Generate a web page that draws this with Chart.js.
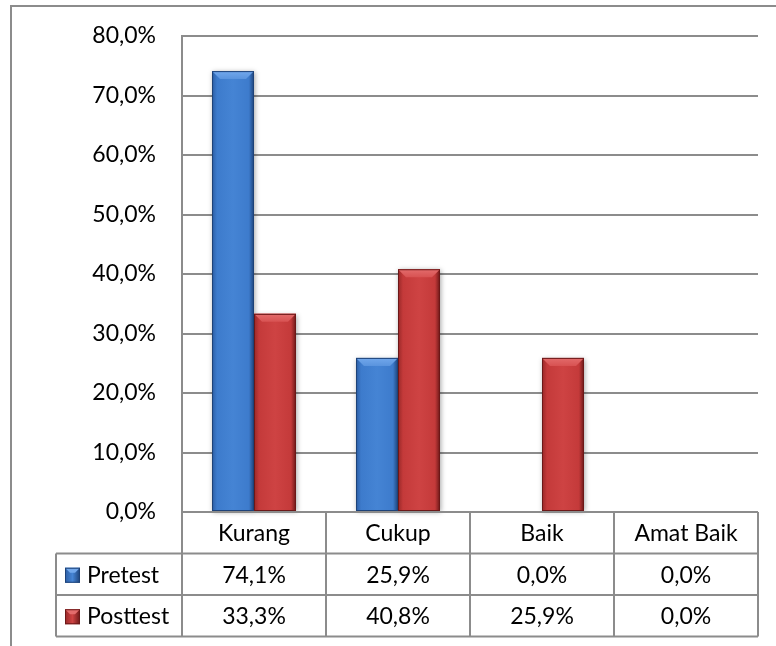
<!DOCTYPE html>
<html>
<head>
<meta charset="utf-8">
<script src="https://cdn.jsdelivr.net/npm/chart.js@4.4.0/dist/chart.umd.min.js"></script>
<style>
  html, body { margin: 0; padding: 0; background: #ffffff; }
  #wrap { width: 776px; height: 646px; position: relative; }
</style>
</head>
<body>
<div id="wrap"><canvas id="c" width="776" height="646"></canvas></div>
<script>
// ---- Data ----
const categories = ['Kurang', 'Cukup', 'Baik', 'Amat Baik'];
const seriesNames = ['Pretest', 'Posttest'];
const pretest = [74.1, 25.9, 0.0, 0.0];
const posttest = [33.3, 40.8, 25.9, 0.0];
const yMin = 0;
const yMax = 80;
const yStep = 10;

const FONT = 'Lato, "Open Sans", sans-serif';
const FSIZE = 23;
const LINE = '#8c8c8c';

const palettes = [
  { base: '#3d7bcc', edgeL: '#2c5ea4', mid: '#4584d4', edgeR: '#1d4278', bevel: '#72a8ec', bevel2: '#5a94de' },
  { base: '#c43a3a', edgeL: '#982828', mid: '#ce4343', edgeR: '#6c1818', bevel: '#e36c6c', bevel2: '#d85252' }
];

function fmt(v) { return v.toFixed(1).replace('.', ',') + '%'; }

const frame = {
  id: 'frame',
  beforeDraw(chart) {
    const c = chart.ctx;
    c.save();
    c.fillStyle = '#fff';
    c.fillRect(0, 0, chart.width, chart.height);
    c.strokeStyle = LINE;
    c.lineWidth = 2;
    c.beginPath();
    c.moveTo(11, chart.height);
    c.lineTo(11, 6);
    c.lineTo(chart.width, 6);
    c.stroke();
    c.restore();
  }
};

const barStyle = {
  id: 'barStyle',
  beforeDatasetsDraw(chart) {
    const c = chart.ctx;
    c.save();
    chart.data.datasets.forEach((ds, di) => {
      chart.getDatasetMeta(di).data.forEach(el => {
        const h = el.base - el.y;
        if (h < 1) return;
        c.shadowColor = 'rgba(0,0,0,0.35)';
        c.shadowBlur = 5;
        c.shadowOffsetX = 1;
        c.shadowOffsetY = 1;
        c.fillStyle = '#ffffff';
        c.fillRect(el.x - el.width / 2, el.y, el.width, h);
      });
    });
    c.restore();
  },
  afterDatasetsDraw(chart) {
    const c = chart.ctx;
    c.save();
    chart.data.datasets.forEach((ds, di) => {
      const p = palettes[di];
      chart.getDatasetMeta(di).data.forEach(el => {
        const h = el.base - el.y;
        if (h < 1) return;
        const l = el.x - el.width / 2, r = el.x + el.width / 2, t = el.y, b = el.base;
        const g = c.createLinearGradient(l, 0, r, 0);
        g.addColorStop(0, p.edgeL);
        g.addColorStop(0.12, p.base);
        g.addColorStop(0.5, p.mid);
        g.addColorStop(0.88, p.base);
        g.addColorStop(1, p.edgeR);
        c.fillStyle = g;
        c.fillRect(l, t, r - l, b - t);
        const bv = Math.min(8, h / 2);
        const gb = c.createLinearGradient(0, t, 0, t + bv);
        gb.addColorStop(0, p.bevel);
        gb.addColorStop(1, p.bevel2);
        c.fillStyle = gb;
        c.beginPath();
        c.moveTo(l, t);
        c.lineTo(r, t);
        c.lineTo(r - bv, t + bv);
        c.lineTo(l + bv, t + bv);
        c.closePath();
        c.fill();
        c.strokeStyle = p.edgeR;
        c.lineWidth = 1;
        c.strokeRect(l + 0.5, t + 0.5, r - l - 1, b - t - 1);
      });
    });
    c.restore();
  }
};

const dataTable = {
  id: 'dataTable',
  afterDraw(chart) {
    const c = chart.ctx;
    const xs = chart.scales.x;
    const area = chart.chartArea;
    const n = categories.length;
    const half = (xs.getPixelForValue(1) - xs.getPixelForValue(0)) / 2;
    const bounds = [];
    for (let i = 0; i < n; i++) bounds.push(xs.getPixelForValue(i) - half);
    bounds.push(xs.getPixelForValue(n - 1) + half);
    const rowH = 41.5;
    const top = area.bottom;
    const rows = [top, top + rowH, top + 2 * rowH, top + 3 * rowH];
    const legL = 56;
    c.save();
    c.strokeStyle = LINE;
    c.lineWidth = 2;
    c.beginPath();
    c.moveTo(bounds[0], rows[0]); c.lineTo(bounds[n], rows[0]);
    for (let k = 1; k <= 3; k++) { c.moveTo(legL, rows[k]); c.lineTo(bounds[n], rows[k]); }
    c.moveTo(legL, rows[1]); c.lineTo(legL, rows[3]);
    bounds.forEach(bx => { c.moveTo(bx, rows[0]); c.lineTo(bx, rows[3]); });
    c.stroke();

    c.fillStyle = '#000';
    c.font = FSIZE + 'px ' + FONT;
    c.textBaseline = 'middle';
    c.textAlign = 'center';
    categories.forEach((cat, i) => {
      c.fillText(cat, xs.getPixelForValue(i), (rows[0] + rows[1]) / 2 + 1);
    });
    chart.data.datasets.forEach((ds, di) => {
      const cy = (rows[di + 1] + rows[di + 2]) / 2 + 1;
      c.textAlign = 'center';
      ds.data.forEach((v, i) => c.fillText(fmt(v), xs.getPixelForValue(i), cy));
      // legend key
      const p = palettes[di];
      const kx = 65, ks = 15, ky = cy - ks / 2;
      const g = c.createLinearGradient(kx, 0, kx + ks, 0);
      g.addColorStop(0, p.edgeL); g.addColorStop(0.5, p.mid); g.addColorStop(1, p.edgeR);
      c.fillStyle = g;
      c.fillRect(kx, ky, ks, ks);
      c.fillStyle = p.bevel;
      c.beginPath();
      c.moveTo(kx, ky); c.lineTo(kx + ks, ky); c.lineTo(kx + ks - 5, ky + 5); c.lineTo(kx + 5, ky + 5);
      c.closePath(); c.fill();
      c.strokeStyle = p.edgeR; c.lineWidth = 1;
      c.strokeRect(kx + 0.5, ky + 0.5, ks - 1, ks - 1);
      c.fillStyle = '#000';
      c.textAlign = 'left';
      c.fillText(ds.label, 87, cy);
    });
    c.restore();
  }
};

new Chart(document.getElementById('c'), {
  type: 'bar',
  data: {
    labels: categories,
    datasets: [
      { label: seriesNames[0], data: pretest, backgroundColor: palettes[0].base, borderWidth: 0 },
      { label: seriesNames[1], data: posttest, backgroundColor: palettes[1].base, borderWidth: 0 }
    ]
  },
  options: {
    responsive: false,
    animation: false,
    devicePixelRatio: 1,
    layout: { padding: { left: 0, top: 36, right: 18, bottom: 134 } },
    datasets: { bar: { categoryPercentage: 0.583, barPercentage: 1.0 } },
    plugins: { legend: { display: false }, tooltip: { enabled: false } },
    scales: {
      x: { display: false },
      y: {
        min: yMin, max: yMax,
        afterFit(s) { s.width = 182; s.paddingTop = 0; s.paddingBottom = 0; },
        ticks: {
          stepSize: yStep,
          padding: 26,
          color: '#000',
          font: { family: FONT, size: FSIZE },
          callback: v => fmt(v)
        },
        grid: { color: LINE, lineWidth: 2, drawTicks: false },
        border: { display: true, color: LINE, width: 2 }
      }
    }
  },
  plugins: [frame, barStyle, dataTable]
});
</script>
</body>
</html>
